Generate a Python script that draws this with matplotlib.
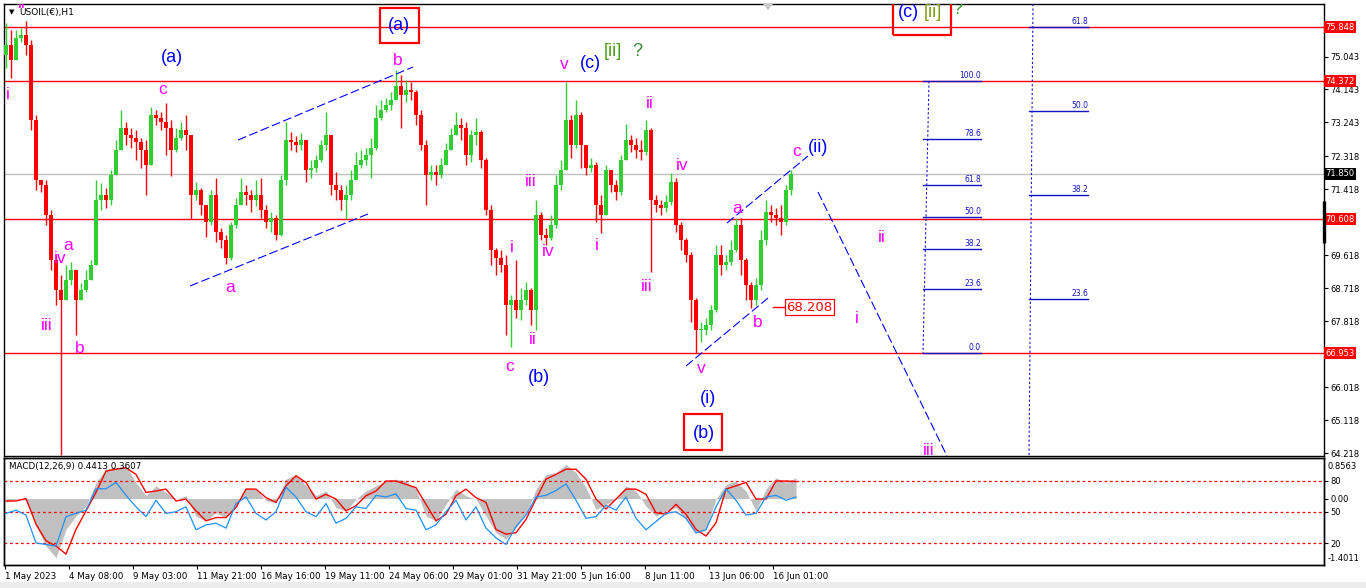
import matplotlib
matplotlib.use("Agg")
import matplotlib.pyplot as plt
import matplotlib.transforms as mtransforms
from matplotlib.patches import Rectangle, Polygon
import numpy as np

# ------------------------------------------------------------------ data
symbol_title = "USOIL(€),H1"
first_open = 75.08
closes = [
    75.36, 74.95, 75.55, 75.63, 75.36, 73.31, 71.67, 71.54, 70.72, 69.49,
    68.67, 68.40, 68.95, 69.22, 68.40, 68.67, 68.95, 69.35, 71.13, 71.26,
    71.13, 71.81, 72.49, 73.09, 72.90, 72.82, 72.71, 72.49, 72.08, 73.45,
    73.37, 73.26, 73.09, 72.49, 72.82, 73.04, 72.90, 71.26, 71.40, 70.99,
    70.53, 71.26, 70.25, 70.04, 69.55, 70.45, 70.99, 71.35, 71.26, 71.13,
    71.26, 70.85, 70.53, 70.64, 70.17, 71.67, 72.76, 72.71, 72.63, 72.76,
    71.95, 72.00, 72.22, 72.63, 72.90, 71.54, 71.40, 71.13, 71.26, 71.67,
    72.08, 72.22, 72.36, 72.55, 73.37, 73.58, 73.72, 73.86, 74.23, 73.99,
    74.13, 74.07, 73.45, 72.63, 71.81, 71.89, 71.81, 72.08, 72.49, 72.90,
    73.18, 73.09, 72.36, 72.90, 72.98, 72.22, 70.85, 69.76, 69.55, 69.35,
    68.26, 68.40, 68.13, 68.40, 68.67, 68.13, 70.72, 70.17, 70.09, 70.45,
    71.54, 71.95, 73.31, 72.63, 73.45, 72.63, 72.00, 72.08, 70.99, 70.72,
    71.95, 71.54, 71.35, 72.22, 72.76, 72.63, 72.49, 72.44, 73.04, 71.13,
    70.99, 70.91, 71.07, 71.62, 70.45, 70.04, 69.63, 68.40, 67.58, 67.58,
    67.72, 68.13, 69.63, 69.35, 69.44, 69.76, 70.45, 69.49, 68.81, 68.40,
    68.81, 70.04, 70.80, 70.72, 70.64, 70.53, 71.40, 71.85]
highs = [
    75.96, 75.77, 75.77, 75.82, 76.01, 75.49, 73.45, 71.67, 71.67, 70.85,
    69.63, 69.08, 69.35, 69.44, 69.22, 68.86, 69.22, 69.49, 71.67, 71.59,
    71.45, 71.95, 72.76, 73.58, 73.26, 73.09, 73.04, 72.82, 72.76, 73.66,
    73.58, 73.53, 73.77, 73.31, 73.09, 73.26, 73.45, 72.90, 71.62, 71.45,
    70.85, 71.40, 71.73, 70.36, 70.17, 70.53, 71.18, 71.73, 71.54, 71.40,
    71.67, 71.73, 70.99, 70.80, 70.72, 71.81, 73.26, 72.98, 72.87, 72.96,
    72.76, 72.22, 72.36, 72.76, 73.53, 72.90, 71.89, 71.54, 71.54, 71.95,
    72.44, 72.49, 72.55, 72.82, 73.72, 73.86, 73.91, 74.07, 74.68, 74.54,
    74.40, 74.35, 74.13, 73.58, 72.76, 72.08, 72.08, 72.27, 72.68, 73.09,
    73.53, 73.37, 73.26, 73.04, 73.37, 73.04, 72.27, 70.99, 69.82, 69.76,
    69.63, 68.54, 69.49, 68.73, 68.89, 68.73, 71.13, 70.80, 70.36, 70.72,
    71.81, 72.22, 74.35, 73.45, 73.86, 73.53, 72.16, 72.27, 72.16, 71.26,
    72.08, 71.89, 71.67, 72.36, 73.20, 72.90, 72.82, 72.76, 73.31, 73.09,
    71.26, 71.13, 71.26, 71.86, 71.73, 70.53, 70.09, 69.71, 68.45, 67.80,
    67.91, 68.26, 69.90, 69.90, 69.63, 70.04, 70.64, 70.64, 69.55, 68.89,
    69.00, 70.31, 71.13, 70.99, 70.91, 70.99, 71.54, 71.95]
lows = [
    74.73, 74.46, 75.36, 75.44, 75.08, 73.04, 71.40, 71.35, 70.45, 69.22,
    68.26, 64.17, 68.40, 68.81, 67.44, 68.40, 68.62, 68.95, 69.35, 70.85,
    70.91, 70.99, 71.81, 72.49, 72.63, 72.55, 72.22, 72.00, 71.26, 72.08,
    73.18, 73.04, 72.36, 71.78, 72.44, 72.76, 72.49, 70.61, 71.13, 70.72,
    70.12, 70.45, 69.98, 69.82, 69.38, 69.49, 70.36, 71.13, 70.99, 70.80,
    70.96, 70.64, 70.36, 70.25, 70.04, 70.15, 71.54, 72.49, 72.44, 72.49,
    71.62, 71.73, 71.89, 72.16, 72.49, 71.26, 71.13, 70.85, 70.61, 71.13,
    71.67, 72.00, 72.08, 71.73, 72.49, 73.31, 73.53, 73.58, 73.86, 73.09,
    73.80, 73.86, 73.18, 72.49, 70.99, 71.67, 71.54, 71.73, 72.16, 72.49,
    72.90, 72.76, 72.08, 72.16, 72.63, 72.00, 70.72, 69.35, 69.08, 69.16,
    67.44, 67.12, 67.91, 67.85, 68.26, 67.72, 67.58, 70.04, 69.90, 70.04,
    70.36, 71.40, 72.22, 72.27, 72.55, 72.00, 71.81, 71.89, 70.53, 70.23,
    70.72, 71.35, 71.13, 71.26, 72.22, 72.44, 72.27, 72.22, 72.36, 69.16,
    70.80, 70.72, 70.80, 70.99, 70.25, 69.76, 69.44, 67.80, 66.95, 67.25,
    67.44, 67.58, 68.07, 69.08, 69.22, 69.35, 69.71, 69.08, 68.40, 68.18,
    68.26, 68.67, 69.90, 70.53, 70.45, 70.17, 70.45, 71.26]

macd_hist = [
    -0.08, -0.01, -0.03, -0.58, -1.00, -1.25, -0.65, -0.37, -0.16, 0.34,
    0.62, 0.65, 0.69, 0.34, 0.06, 0.27, 0.13, -0.01, 0.06, -0.37,
    -0.47, -0.30, -0.40, -0.15, 0.23, 0.20, -0.05, -0.08, 0.41, 0.51,
    0.27, 0.06, 0.16, -0.19, -0.26, -0.01, 0.16, 0.27, 0.37, 0.41,
    0.37, 0.20, -0.37, -0.47, -0.12, 0.20, 0.06, -0.01, -0.37, -0.72,
    -0.86, -0.61, -0.33, 0.20, 0.51, 0.55, 0.72, 0.55, 0.23, -0.23,
    -0.12, -0.01, 0.27, 0.16, -0.16, -0.37, -0.26, -0.19, -0.44, -0.72,
    -0.65, -0.01, 0.30, 0.37, 0.16, -0.26, 0.20, 0.44, 0.34, 0.44]
macd_signal = [
    -0.05, -0.05, 0.00, -0.54, -0.89, -1.00, -1.17, -0.65, -0.26, 0.13,
    0.58, 0.62, 0.65, 0.51, 0.13, 0.16, 0.20, -0.05, -0.01, -0.26,
    -0.47, -0.40, -0.40, -0.19, 0.20, 0.20, 0.02, -0.08, 0.27, 0.48,
    0.34, -0.01, 0.09, -0.01, -0.26, -0.15, 0.06, 0.16, 0.37, 0.37,
    0.30, 0.23, -0.12, -0.47, -0.33, 0.06, 0.20, 0.02, -0.08, -0.65,
    -0.75, -0.72, -0.44, -0.01, 0.41, 0.51, 0.62, 0.62, 0.41, -0.01,
    -0.22, -0.01, 0.20, 0.20, 0.09, -0.30, -0.33, -0.12, -0.33, -0.65,
    -0.79, -0.51, 0.20, 0.27, 0.34, -0.01, -0.01, 0.37, 0.37, 0.36]
osc_line = [
    48.6, 51.7, 47.0, 20.3, 18.8, 17.2, 45.5, 48.6, 51.7, 72.2,
    72.2, 78.4, 65.9, 54.9, 45.5, 61.2, 48.6, 50.2, 54.9, 32.9,
    37.6, 39.2, 34.5, 58.0, 64.3, 48.6, 42.3, 50.2, 73.7, 64.3,
    50.2, 45.5, 58.0, 39.2, 43.9, 54.9, 53.3, 65.9, 64.3, 67.4,
    53.3, 51.7, 32.9, 37.6, 50.2, 61.2, 42.3, 54.9, 34.5, 25.1,
    18.8, 36.0, 47.0, 64.3, 65.9, 70.6, 76.9, 61.2, 43.9, 45.5,
    56.4, 51.7, 64.3, 43.9, 32.9, 40.8, 48.6, 50.2, 43.9, 29.8,
    32.9, 54.9, 72.2, 61.2, 47.0, 48.6, 64.3, 65.9, 61.2, 64.3]
macd_title = "MACD(12,26,9) 0.4413 0.3607"
macd_top, macd_bottom = 0.8563, -1.4011
osc_levels = [80, 50, 20]

time_labels = ["1 May 2023", "4 May 08:00", "9 May 03:00", "11 May 21:00",
               "16 May 16:00", "19 May 11:00", "24 May 06:00", "29 May 01:00",
               "31 May 21:00", "5 Jun 16:00", "8 Jun 11:00", "13 Jun 06:00",
               "16 Jun 01:00"]
price_ticks = [75.043, 74.143, 73.243, 72.318, 71.418, 69.618, 68.718,
               67.818, 66.018, 65.118, 64.218]
red_levels = [75.848, 74.372, 70.608, 66.953]
last_price = 71.850
fib1_zero, fib1_hundred = 66.953, 74.372
fib1_levels = [0.0, 23.6, 38.2, 50.0, 61.8, 78.6, 100.0]
fib2_zero, fib2_range = 63.85, 19.42
fib2_levels = [23.6, 38.2, 50.0, 61.8]
marker_price = 68.208

# ------------------------------------------------------------------ helpers (screen position -> axis units, for drawings)
def X(px):
    return (px - 6) / 5.0

def Y(py):
    return 76.585 - 0.027285 * py

W, H = 1366, 588
fig = plt.figure(figsize=(W / 100, H / 100), dpi=100, facecolor="white")
ax = fig.add_axes([4 / W, 1 - 456 / H, 1320 / W, 452 / H])
ax2 = fig.add_axes([4 / W, 1 - 565 / H, 1320 / W, 107 / H], sharex=ax)

GREEN = "#32cd32"
RED = "#ff0000"
MAG = "#ff00ff"
BLU = "#0000ff"
FIBC = "#1414c8"

# ------------------------------------------------------------------ candles
n = len(closes)
xs = np.arange(n)
opens = [first_open] + closes[:-1]
cols = [GREEN if c >= o else RED for o, c in zip(opens, closes)]
tops = [max(h, o, c) for h, o, c in zip(highs, opens, closes)]
bots = [min(l, o, c) for l, o, c in zip(lows, opens, closes)]
ax.vlines(xs, bots, tops, colors=cols, lw=1.0, zorder=3)
body_lo = [min(o, c) for o, c in zip(opens, closes)]
body_h = [max(abs(c - o), 0.03) for o, c in zip(opens, closes)]
ax.bar(xs, body_h, bottom=body_lo, width=0.7, color=cols, lw=0, zorder=3)

ax.set_xlim(X(4), X(1324))
ax.set_ylim(Y(456), Y(4))

# horizontal lines
for lv in red_levels:
    ax.axhline(lv, color=RED, lw=1.0, zorder=2)
ax.axhline(last_price, color="#c0c0c0", lw=1.0, zorder=2)

# right price axis
ax.yaxis.tick_right()
ax.set_yticks(price_ticks)
ax.set_yticklabels([f"{v:.3f}" for v in price_ticks])
ax.tick_params(axis="y", labelsize=6, length=3, width=0.8, pad=1.5, colors="black")
ax.tick_params(axis="x", bottom=False, labelbottom=False)
for s in ax.spines.values():
    s.set_color("black")
    s.set_linewidth(1.0)

btr = mtransforms.blended_transform_factory(ax.transAxes, ax.transData)
for lv in red_levels:
    ax.text(1.0012, lv, f"{lv:.3f}", transform=btr, ha="left", va="center",
            fontsize=6, color="white", zorder=10, clip_on=False,
            bbox=dict(boxstyle="square,pad=0.18", fc=RED, ec="none"))
ax.text(1.0012, last_price, f"{last_price:.3f}", transform=btr, ha="left",
        va="center", fontsize=6, color="white", zorder=10, clip_on=False,
        bbox=dict(boxstyle="square,pad=0.18", fc="black", ec="none"))
ax.plot([1.0, 1.0], [Y(201), Y(243)], transform=btr, color="black", lw=2.4,
        solid_capstyle="butt", clip_on=False, zorder=11)

# title
ax.text(X(12), Y(12), "▼", fontsize=5, ha="center", va="center", color="black",
        family="DejaVu Sans")
ax.text(X(19), Y(12), symbol_title, fontsize=6.5, ha="left", va="center",
        color="black", family="DejaVu Sans")

# shift marker
ax.add_patch(Polygon([(X(763), Y(4)), (X(773), Y(4)), (X(768), Y(10))],
                     closed=True, fc="#c8c8c8", ec="none", zorder=5))

# ------------------------------------------------------------------ drawings
def seg(p0, p1, **kw):
    ax.plot([X(p0[0]), X(p1[0])], [Y(p0[1]), Y(p1[1])], **kw)

dash_kw = dict(color=BLU, lw=0.8, dashes=(8, 3), zorder=4)
seg((190, 286), (368, 214), **dash_kw)
seg((238, 140), (413, 67), **dash_kw)
seg((686, 366), (768, 298), **dash_kw)
seg((727, 223), (808, 156), **dash_kw)
seg((818, 192), (947, 456), **dash_kw)

# fibonacci 1
for lv in fib1_levels:
    p = fib1_zero + lv / 100.0 * (fib1_hundred - fib1_zero)
    ax.plot([X(923), X(981)], [p, p], color=FIBC, lw=1.0, zorder=4)
    ax.text(X(981), p + 0.03, f"{lv:.1f}", fontsize=5.5, color=FIBC,
            ha="right", va="bottom", family="DejaVu Sans")
ax.plot([X(929), X(923)], [fib1_hundred, fib1_zero], color=FIBC, lw=0.8,
        dashes=(2, 2), zorder=4)
# fibonacci 2
for lv in fib2_levels:
    p = fib2_zero + lv / 100.0 * fib2_range
    ax.plot([X(1029), X(1088)], [p, p], color=FIBC, lw=1.0, zorder=4)
    ax.text(X(1088), p + 0.03, f"{lv:.1f}", fontsize=5.5, color=FIBC,
            ha="right", va="bottom", family="DejaVu Sans")
seg((1033, 4), (1029, 456), color=FIBC, lw=0.8, dashes=(2, 2), zorder=4)

# marker price label
ax.plot([X(773), X(784)], [marker_price, marker_price], color=RED, lw=1.0, zorder=5)
ax.text(X(809.5), marker_price, f"{marker_price:.3f}", fontsize=9.5, color=RED,
        ha="center", va="center", family="DejaVu Sans", zorder=6,
        bbox=dict(boxstyle="square,pad=0.12", fc="white", ec=RED, lw=0.9))

# red boxes
def box(x0, y0, x1, y1):
    ax.add_patch(Rectangle((X(x0), Y(y1)), X(x1) - X(x0), Y(y0) - Y(y1),
                           fill=False, ec=RED, lw=1.6, zorder=6))

box(380, 8, 419, 43)
box(684, 414, 722, 450)
box(893, -2, 951, 35)

# wave labels
wave_labels = [
    ("ii", 22, 3, MAG), ("i", 8, 94, MAG), ("(a)", 172, 57, BLU), ("c", 163, 89, MAG),
    ("a", 68, 246, MAG), ("iv", 60, 258, MAG), ("iii", 47, 326, MAG), ("b", 80, 348, MAG),
    ("a", 230, 287, MAG), ("(a)", 399, 25, BLU), ("b", 398, 60, MAG), ("i", 512, 248, MAG),
    ("c", 510, 366, MAG), ("(b)", 539, 377, BLU), ("iii", 531, 181, MAG), ("iv", 548, 251, MAG),
    ("ii", 533, 339, MAG), ("v", 564, 64, MAG), ("(c)", 590, 63, BLU), ("i", 597, 246, MAG),
    ("ii", 650, 104, MAG), ("iii", 647, 286, MAG), ("iv", 682, 166, MAG), ("a", 737, 208, MAG),
    ("b", 758, 322, MAG), ("c", 797, 152, MAG), ("(ii)", 818, 148, BLU), ("v", 701, 368, MAG),
    ("(i)", 708, 398, BLU), ("(b)", 704, 433, BLU), ("ii", 882, 237, MAG), ("i", 857, 318, MAG),
    ("iii", 929, 450, MAG), ("(c)", 908, 12, BLU),
]
for t, px, py, c in wave_labels:
    ax.text(X(px), Y(py), t, color=c, fontsize=12.5 if c == MAG else 13,
            ha="center", va="center", family="Liberation Sans", zorder=7,
            clip_on=True)
ax.text(X(613), Y(52), "[ii]", color="#4a9a1a", fontsize=13, ha="center",
        va="center", family="Liberation Sans", zorder=7)
ax.text(X(637), Y(51), "?", color="#3a8a3a", fontsize=13, ha="center",
        va="center", family="Liberation Sans", zorder=7)
ax.text(X(933), Y(12), "[ii]", color="#7a9a10", fontsize=13, ha="center",
        va="center", family="Liberation Sans", zorder=7, clip_on=True)
ax.text(X(957), Y(9), "?", color="#3a9a3a", fontsize=13, ha="center",
        va="center", family="Liberation Sans", zorder=7, clip_on=True)

# ------------------------------------------------------------------ MACD panel
mx = np.arange(len(macd_hist)) * 2
ax2.fill_between(mx, 0, macd_hist, color="#c0c0c0", lw=0, zorder=1)
ax2.plot(mx, macd_signal, color=RED, lw=1.0, zorder=3)
ax2.set_ylim(macd_bottom, macd_top)
ax3 = ax2.twinx()
ax3.set_ylim(-0.86, 101.7)
for lv in osc_levels:
    ax3.axhline(lv, color=RED, lw=0.9, dashes=(2.2, 2.2), zorder=2)
ax3.plot(mx, osc_line, color="#1e90ff", lw=0.9, zorder=4)

ax2.yaxis.tick_right()
ax2.set_yticks([0.0])
ax2.set_yticklabels(["0.00"])
ax3.set_yticks(osc_levels)
ax3.set_yticklabels([str(v) for v in osc_levels])
for a in (ax2, ax3):
    a.tick_params(axis="y", labelsize=6, length=3, width=0.8, pad=1.5)
    for s in a.spines.values():
        s.set_color("black")
        s.set_linewidth(1.0)
ax2.text(1.003, 0.925, f"{macd_top:.4f}", transform=ax2.transAxes, fontsize=6,
         ha="left", va="center")
ax2.text(1.003, 0.065, f"{macd_bottom:.4f}", transform=ax2.transAxes, fontsize=6,
         ha="left", va="center")
ax2.text(X(9), 0.925, macd_title, transform=mtransforms.blended_transform_factory(
    ax2.transData, ax2.transAxes), fontsize=6.3, ha="left", va="center", zorder=6)

tick_pos = [X(5 + 64 * k) for k in range(len(time_labels))]
ax2.set_xticks(tick_pos)
ax2.set_xticklabels(time_labels, ha="left")
ax2.tick_params(axis="x", labelsize=6.3, length=3, width=0.8, pad=2, direction="out")
ax2.set_xlim(X(4), X(1324))

fig.patches.append(Rectangle((0, 0), 1, 6 / H, transform=fig.transFigure,
                             fc="#ececec", ec="none", zorder=0))

fig.savefig("out.png", dpi=100, facecolor="white")
